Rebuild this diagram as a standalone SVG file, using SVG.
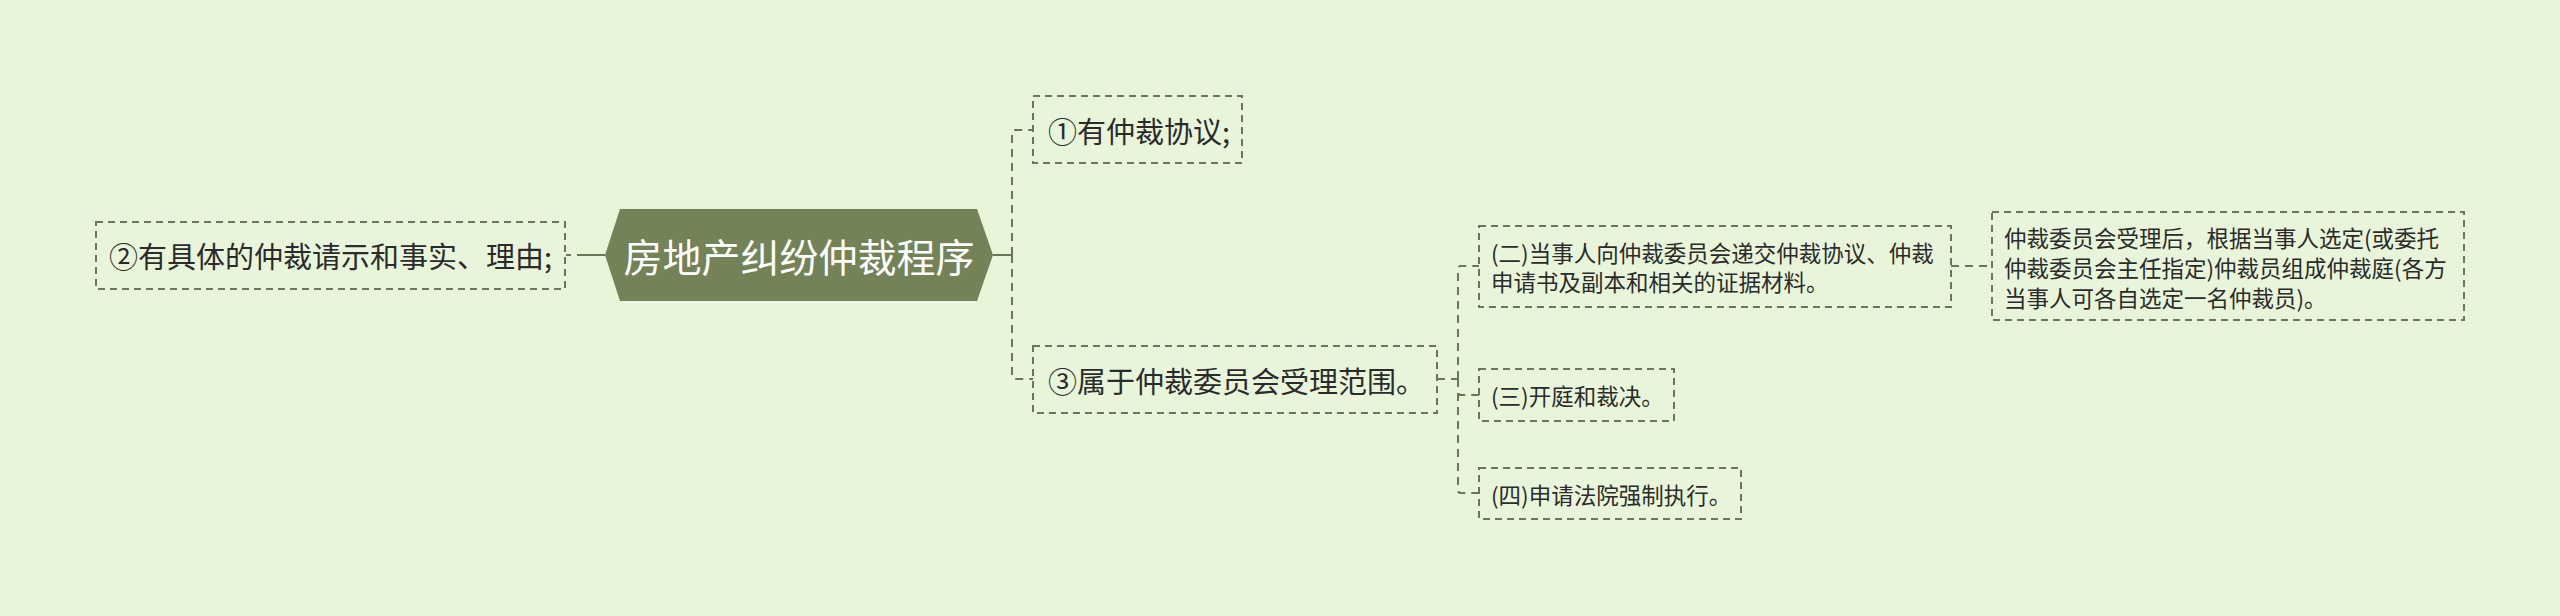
<svg xmlns="http://www.w3.org/2000/svg" width="2560" height="616" viewBox="0 0 2560 616">
<style>
.bg{fill:#e8f5da}
.box{fill:none;stroke:#6b7858;stroke-width:2;stroke-dasharray:7 5}
.conn{fill:none;stroke:#6b7858;stroke-width:2;stroke-dasharray:8 6}
.solid{fill:none;stroke:#6b7858;stroke-width:2}
.t{font-family:"Noto Sans CJK SC","Noto Sans",sans-serif;fill:#2b2b2b;dominant-baseline:central}
.t1{font-size:29px}
.t2{font-size:22.5px}
.root{font-family:"Noto Sans CJK SC","Noto Sans",sans-serif;font-size:39px;fill:#ffffff;dominant-baseline:central;text-anchor:middle}
</style>
<rect class="bg" x="0" y="0" width="2560" height="616"/>
<g id="connectors">
  <path class="solid" d="M577 255 H605"/>
  <path class="solid" d="M566 255 H571"/>
  <path class="solid" d="M993 255 H1012"/>
  <path class="conn" d="M1012 255 V133 Q1012 130 1015 130 H1033"/>
  <path class="conn" d="M1012 255 V376 Q1012 379 1015 379 H1033"/>
  <path class="conn" d="M1437 379 H1458"/>
  <path class="conn" d="M1458 379 V269 Q1458 266 1461 266 H1479"/>
  <path class="conn" d="M1458 379 V392 Q1458 395 1461 395 H1479"/>
  <path class="conn" d="M1458 379 V490 Q1458 493 1461 493 H1479"/>
  <path class="conn" d="M1951 266 H1992"/>
</g>
<g id="root">
  <polygon points="605,255 620,209 977,209 993,255 977,301 620,301" fill="#748258"/>
  <text class="root" x="799" y="255">房地产纠纷仲裁程序</text>
</g>
<g id="n-left">
  <rect class="box" x="96" y="222" width="469" height="67"/>
  <text class="t t1" x="109" y="255">②有具体的仲裁请示和事实、理由;</text>
</g>
<g id="n1">
  <rect class="box" x="1033" y="96" width="209" height="67"/>
  <text class="t t1" x="1048" y="129.5">①有仲裁协议;</text>
</g>
<g id="n3">
  <rect class="box" x="1033" y="346" width="404" height="67"/>
  <text class="t t1" x="1048" y="379.5">③属于仲裁委员会受理范围。</text>
</g>
<g id="n3-2">
  <rect class="box" x="1479" y="226" width="472" height="81"/>
  <text class="t t2" x="1491" y="252">(二)当事人向仲裁委员会递交仲裁协议、仲裁</text>
  <text class="t t2" x="1491" y="281">申请书及副本和相关的证据材料。</text>
</g>
<g id="n3-2-1">
  <rect class="box" x="1992" y="212" width="472" height="108"/>
  <text class="t t2" x="2004" y="237">仲裁委员会受理后，根据当事人选定(或委托</text>
  <text class="t t2" x="2004" y="267">仲裁委员会主任指定)仲裁员组成仲裁庭(各方</text>
  <text class="t t2" x="2004" y="297">当事人可各自选定一名仲裁员)。</text>
</g>
<g id="n3-3">
  <rect class="box" x="1479" y="369" width="195" height="52"/>
  <text class="t t2" x="1491" y="395">(三)开庭和裁决。</text>
</g>
<g id="n3-4">
  <rect class="box" x="1479" y="468" width="262" height="51"/>
  <text class="t t2" x="1491" y="493.5">(四)申请法院强制执行。</text>
</g>
</svg>
